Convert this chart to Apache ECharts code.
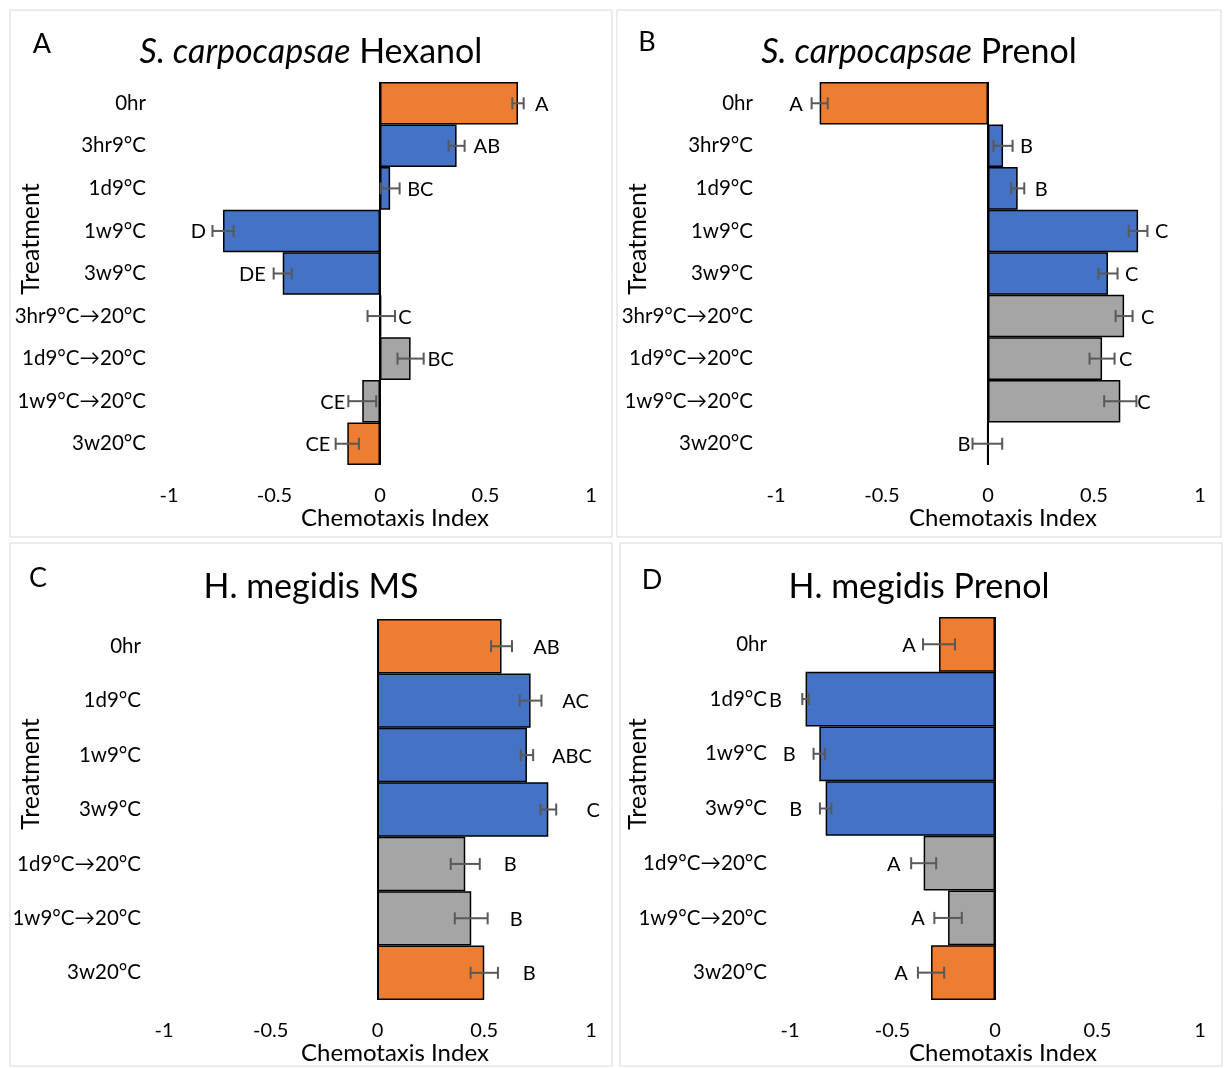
<!DOCTYPE html>
<html>
<head>
<meta charset="utf-8">
<script src="https://cdn.jsdelivr.net/npm/echarts@6/dist/echarts.min.js"></script>
<style>
html,body{margin:0;padding:0;background:#fff;}
#chart{width:1226px;height:1068px;}
</style>
</head>
<body>
<div id="chart"></div>
<script>
// ---------- DATA ----------
const catsA = ['0hr','3hr9°C','1d9°C','1w9°C','3w9°C','3hr9°C→20°C','1d9°C→20°C','1w9°C→20°C','3w20°C'];
const valsA = [0.654, 0.363, 0.048, -0.744, -0.461, 0.006, 0.145, -0.084, -0.155];
const errA  = [0.027, 0.038, 0.045, 0.050, 0.043, 0.065, 0.062, 0.066, 0.055];
const letA  = ['A','AB','BC','D','DE','C','BC','CE','CE'];
const grpA  = ['control','cold','cold','cold','cold','rewarm','rewarm','rewarm','control'];

const catsB = ['0hr','3hr9°C','1d9°C','1w9°C','3w9°C','3hr9°C→20°C','1d9°C→20°C','1w9°C→20°C','3w20°C'];
const valsB = [-0.794, 0.071, 0.140, 0.708, 0.566, 0.642, 0.538, 0.624, -0.003];
const errB  = [0.038, 0.045, 0.031, 0.044, 0.045, 0.040, 0.059, 0.076, 0.070];
const letB  = ['A','B','B','C','C','C','C','C','B'];
const grpB  = ['control','cold','cold','cold','cold','rewarm','rewarm','rewarm','control'];

const catsC = ['0hr','1d9°C','1w9°C','3w9°C','1d9°C→20°C','1w9°C→20°C','3w20°C'];
const valsC = [0.581, 0.717, 0.700, 0.800, 0.411, 0.439, 0.500];
const errC  = [0.049, 0.051, 0.029, 0.037, 0.068, 0.077, 0.064];
const letC  = ['AB','AC','ABC','C','B','B','B'];
const grpC  = ['control','cold','cold','cold','rewarm','rewarm','control'];

const catsD = ['0hr','1d9°C','1w9°C','3w9°C','1d9°C→20°C','1w9°C→20°C','3w20°C'];
const valsD = [-0.273, -0.924, -0.857, -0.826, -0.348, -0.229, -0.312];
const errD  = [0.078, 0.016, 0.028, 0.028, 0.061, 0.067, 0.064];
const letD  = ['A','B','B','B','A','A','A'];
const grpD  = ['control','cold','cold','cold','rewarm','rewarm','control'];

const xTicks = [-1, -0.5, 0, 0.5, 1];

// ---------- STYLE ----------
const FONT = 'Lato, "Open Sans", sans-serif';
const COLORS = {control:'#ED7D31', cold:'#4472C4', rewarm:'#A5A5A5'};

const panels = [
  {cats:catsA, vals:valsA, err:errA, let:letA, grp:grpA, grid:{left:169, top:82, width:422, height:383}, lab:{mode:'edge', off:17}},
  {cats:catsB, vals:valsB, err:errB, let:letB, grp:grpB, grid:{left:776, top:82, width:424, height:383}, lab:{mode:'edge', off:17}},
  {cats:catsC, vals:valsC, err:errC, let:letC, grp:grpC, grid:{left:164, top:619, width:427, height:381}, lab:{mode:'center', off:45}},
  {cats:catsD, vals:valsD, err:errD, let:letD, grp:grpD, grid:{left:790, top:617, width:410, height:383}, lab:{mode:'center', off:30}}
];

const grids = [], xAxes = [], yAxes = [], series = [];
panels.forEach((p, i) => {
  grids.push(Object.assign({containLabel:false}, p.grid));
  xAxes.push({
    type:'value', gridIndex:i, min:-1, max:1, interval:0.5,
    axisLine:{show:false}, axisTick:{show:false}, splitLine:{show:false},
    axisLabel:{fontSize:20, color:'#000', fontFamily:FONT, margin:21,
      formatter: v => { const t = xTicks.find(k => Math.abs(k - v) < 1e-9); return t === undefined ? '' : String(t); }}
  });
  yAxes.push({
    type:'category', gridIndex:i, data:p.cats, inverse:true,
    axisLine:{show:false}, axisTick:{show:false}, splitLine:{show:false},
    axisLabel:{fontSize:20.5, color:'#000', fontFamily:FONT, margin:23}
  });
  series.push({
    type:'bar', xAxisIndex:i, yAxisIndex:i, barCategoryGap:'0%',
    data:p.vals.map((v, k) => ({value:v, itemStyle:{color:COLORS[p.grp[k]]}})),
    itemStyle:{borderColor:'#000', borderWidth:1.5},
    animation:false, silent:true,
    markLine:{silent:true, symbol:['none','none'], label:{show:false},
      lineStyle:{color:'#000', width:2, type:'solid'}, data:[{xAxis:0}], animation:false}
  });
  series.push({
    type:'custom', xAxisIndex:i, yAxisIndex:i, z:10, animation:false, silent:true,
    encode:{x:0, y:1},
    data:p.vals.map((v, k) => [v, k, p.err[k]]),
    renderItem:(params, api) => {
      const v = api.value(0), c = api.value(1), e = api.value(2);
      const a = api.coord([v - e, c]), b = api.coord([v + e, c]), m = api.coord([v, c]);
      const h = 6;
      const ls = {stroke:'#595959', lineWidth:2};
      const txt = p.let[params.dataIndex];
      let tx, align;
      if (p.lab.mode === 'edge') {
        if (v >= 0) { tx = m[0] + p.lab.off; align = 'left'; }
        else { tx = m[0] - p.lab.off; align = 'right'; }
      } else {
        tx = v >= 0 ? m[0] + p.lab.off : m[0] - p.lab.off; align = 'center';
      }
      return {type:'group', children:[
        {type:'line', shape:{x1:a[0], y1:a[1], x2:b[0], y2:b[1]}, style:ls},
        {type:'line', shape:{x1:a[0], y1:a[1]-h, x2:a[0], y2:a[1]+h}, style:ls},
        {type:'line', shape:{x1:b[0], y1:b[1]-h, x2:b[0], y2:b[1]+h}, style:ls},
        {type:'text', x:tx, y:m[1]+1, style:{text:txt, fill:'#000', font:'20px ' + FONT, textAlign:align, textVerticalAlign:'middle'}}
      ]};
    }
  });
});

// ---------- DECORATION / TEXT ----------
const graphic = [];
[[10,10,602,527],[617,10,604,527],[10,543,602,523],[620,543,602,523]].forEach(r => {
  graphic.push({type:'rect', shape:{x:r[0], y:r[1], width:r[2], height:r[3]}, style:{fill:'none', stroke:'#d9d9d9', lineWidth:1}, silent:true});
});
const titleTexts = [
  {x:311, y:52, text:'{i|S. carpocapsae} Hexanol'},
  {x:919, y:52, text:'{i|S. carpocapsae} Prenol'},
  {x:311, y:587, text:'H. megidis MS'},
  {x:919, y:587, text:'H. megidis Prenol'}
];
titleTexts.forEach(t => graphic.push({type:'text', x:t.x, y:t.y, silent:true,
  style:{text:t.text, fill:'#000', fontSize:34, fontFamily:FONT, textAlign:'center', textVerticalAlign:'middle',
    rich:{i:{fontStyle:'italic', fontSize:34, fontFamily:FONT, fill:'#000'}}}}));
[['A',42,44],['B',647,42],['C',38,578],['D',652,580]].forEach(l => graphic.push({type:'text', x:l[1], y:l[2], silent:true,
  style:{text:l[0], fill:'#000', fontSize:27, fontFamily:FONT, textAlign:'center', textVerticalAlign:'middle'}}));
[[395,518],[1003,518],[395,1053],[1003,1053]].forEach(c => graphic.push({type:'text', x:c[0], y:c[1], silent:true,
  style:{text:'Chemotaxis Index', fill:'#000', fontSize:24, fontFamily:FONT, textAlign:'center', textVerticalAlign:'middle'}}));
[[31,239],[638,239],[31,774],[638,774]].forEach(c => graphic.push({type:'text', x:c[0], y:c[1], rotation:Math.PI/2, silent:true,
  style:{text:'Treatment', fill:'#000', fontSize:25, fontFamily:FONT, textAlign:'center', textVerticalAlign:'middle'}}));

const chart = echarts.init(document.getElementById('chart'), null, {renderer:'canvas'});
chart.setOption({
  backgroundColor:'#fff', animation:false,
  grid:grids, xAxis:xAxes, yAxis:yAxes, series:series, graphic:graphic
});
</script>
</body>
</html>
